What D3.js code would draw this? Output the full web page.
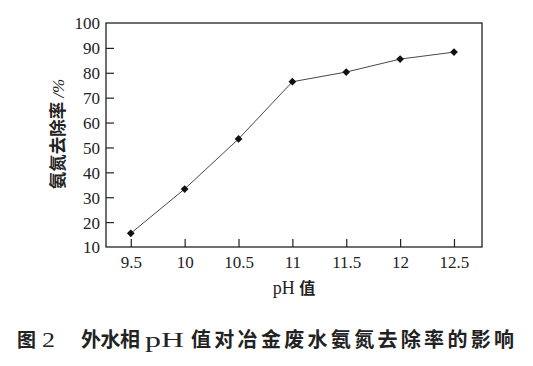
<!DOCTYPE html>
<html><head><meta charset="utf-8">
<script src="https://cdn.jsdelivr.net/npm/d3@7"></script>
<style>body{margin:0;background:#fff}svg{display:block}</style>
</head><body>
<svg id="c" width="533" height="366"></svg>
<script>
const phValues = [9.5, 10, 10.5, 11, 11.5, 12, 12.5];
const removalRate = [15.5, 33.3, 53.4, 76.4, 80.3, 85.5, 88.3];
const xTickLabels = ["9.5", "10", "10.5", "11", "11.5", "12", "12.5"];
const yTicks = [10, 20, 30, 40, 50, 60, 70, 80, 90, 100];

const svg = d3.select("#c");
const L = 106, R = 482, T = 23, B = 247;
const x = d3.scaleLinear().domain([9.27, 12.76]).range([L, R]);
const y = d3.scaleLinear().domain([10, 100]).range([B, T]);
const serif = "Liberation Serif, Times New Roman, DejaVu Serif, serif";
const cjk = "Noto Sans CJK SC, Noto Sans, sans-serif";

svg.append("rect").attr("x", L).attr("y", T).attr("width", R - L).attr("height", B - T)
  .attr("fill", "none").attr("stroke", "#222").attr("stroke-width", 1.3);

const xAxis = svg.append("g").attr("transform", `translate(0,${B})`)
  .call(d3.axisBottom(x).tickValues(phValues).tickFormat((d, i) => xTickLabels[i]).tickSizeInner(-8).tickSizeOuter(0).tickPadding(9));
xAxis.select(".domain").remove();
xAxis.attr("font-family", serif).attr("font-size", 17);
xAxis.selectAll("line").attr("stroke", "#222").attr("stroke-width", 1.2);
xAxis.selectAll("text").style("font-family", serif).style("font-size", "17px").attr("fill", "#222");

const yAxis = svg.append("g").attr("transform", `translate(${L},0)`)
  .call(d3.axisLeft(y).tickValues(yTicks).tickSizeInner(-8).tickSizeOuter(0).tickPadding(6));
yAxis.select(".domain").remove();
yAxis.attr("font-family", serif).attr("font-size", 17);
yAxis.selectAll("line").attr("stroke", "#222").attr("stroke-width", 1.2)
  .filter(d => d === 10 || d === 100).remove();
yAxis.selectAll("text").style("font-family", serif).style("font-size", "17px").attr("fill", "#222").attr("dy", "0.35em");

const pts = phValues.map((p, i) => [p, removalRate[i]]);
svg.append("path").datum(pts)
  .attr("d", d3.line().x(d => x(d[0])).y(d => y(d[1])))
  .attr("fill", "none").attr("stroke", "#333").attr("stroke-width", 0.9);

svg.selectAll(".pt").data(pts).enter().append("path")
  .attr("d", d3.symbol().type(d3.symbolSquare).size(30))
  .attr("transform", d => `translate(${x(d[0])},${y(d[1])}) rotate(45)`)
  .attr("fill", "#111");

const xl = svg.append("text").attr("x", 294).attr("y", 294).attr("text-anchor", "middle").attr("fill", "#222");
xl.append("tspan").style("font-family", serif).style("font-size", "18px").text("pH ");
xl.append("tspan").style("font-family", cjk).style("font-weight", "bold").style("font-size", "16px").text("值");

const yl = svg.append("text").attr("transform", "translate(64,134) rotate(-90)").attr("text-anchor", "middle").attr("fill", "#222");
yl.append("tspan").style("font-family", cjk).style("font-weight", "bold").style("font-size", "17.5px").text("氨氮去除率 ");
yl.append("tspan").style("font-family", serif).style("font-style", "italic").style("font-size", "17px").text("/%");

const cap = svg.append("g").attr("fill", "#222");
const capY = 347;
cap.append("text").attr("x", 17).attr("y", capY).style("font-family", cjk).style("font-weight", "bold").style("font-size", "19px").text("图");
cap.append("text").attr("x", 42).attr("y", capY).style("font-family", serif).style("font-size", "22px").attr("textLength", 13).attr("lengthAdjust", "spacingAndGlyphs").text("2");
cap.append("text").attr("x", 81).attr("y", capY).style("font-family", cjk).style("font-weight", "bold").style("font-size", "20px").attr("textLength", 59).text("外水相");
cap.append("text").attr("x", 145).attr("y", capY).style("font-family", serif).style("font-size", "22px").attr("textLength", 39).attr("lengthAdjust", "spacingAndGlyphs").text("pH");
cap.append("text").attr("x", 191).attr("y", capY).style("font-family", cjk).style("font-weight", "bold").style("font-size", "20px").attr("textLength", 323).text("值对冶金废水氨氮去除率的影响");
</script>
</body></html>
